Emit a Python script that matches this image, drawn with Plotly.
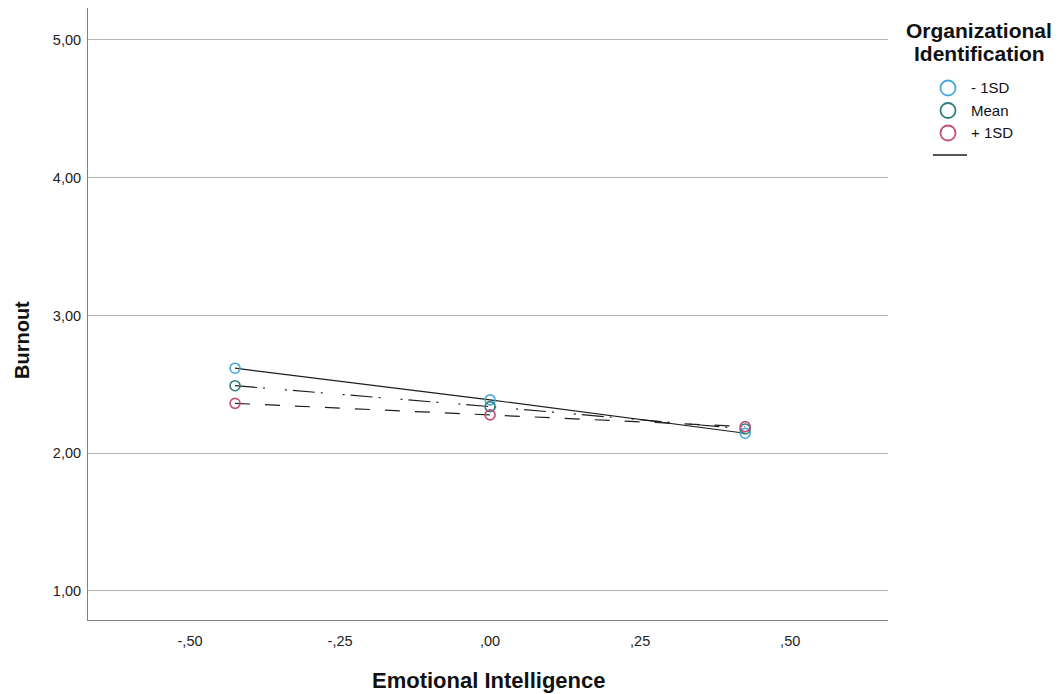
import plotly.graph_objects as go

# Data
x_vals = [-0.425, 0.0, 0.425]
groups = ["- 1SD", "Mean", "+ 1SD"]
burnout_low = [2.617, 2.387, 2.145]
burnout_mean = [2.490, 2.338, 2.176]
burnout_high = [2.362, 2.278, 2.193]
x_tickvals = [-0.5, -0.25, 0.0, 0.25, 0.5]
x_ticktext = ["-,50", "-,25", ",00", ",25", ",50"]
y_tickvals = [1, 2, 3, 4, 5]
y_ticktext = ["1,00", "2,00", "3,00", "4,00", "5,00"]
legend_title = ["Organizational", "Identification"]

series = [burnout_low, burnout_mean, burnout_high]
colors = ["#45a8e0", "#2f7f7b", "#c04f7c"]
dashes = ["solid", "22px,6px,2px,20px,2px,6px", "15px,15px"]

W, H = 1052, 686
L, R, T, B = 80, 172, 0, 74
PW, PH = W - L - R, H - T - B

def px(xf):
    return (xf - L) / PW

def py(yf):
    return 1 - (yf - T) / PH

FONT = "Arial, Liberation Sans, sans-serif"

fig = go.Figure()
for ys, d in zip(series, dashes):
    fig.add_trace(go.Scatter(x=x_vals, y=ys, mode="lines",
                             line=dict(color="#1e1e1e", width=1.2, dash=d),
                             showlegend=False, hoverinfo="skip"))
for name, ys, c in zip(groups, series, colors):
    fig.add_trace(go.Scatter(x=x_vals, y=ys, mode="markers", name=name,
                             showlegend=False,
                             marker=dict(symbol="circle-open", size=10, color=c,
                                         line=dict(width=1.6, color=c))))

annotations = [
    dict(text="<b>Emotional Intelligence</b>", xref="paper", yref="paper",
         x=0.5, y=py(T + PH + 60), xanchor="center", yanchor="middle",
         showarrow=False, font=dict(size=22, family=FONT, color="#111111")),
    dict(text="<b>Burnout</b>", xref="paper", yref="paper", textangle=-90,
         x=px(14), y=py(332), xanchor="center", yanchor="middle",
         showarrow=False, font=dict(size=20, family=FONT, color="#111111")),
    dict(text="<b>%s</b>" % legend_title[0], xref="paper", yref="paper",
         x=px(971.5), y=py(22.5), xanchor="center", yanchor="middle",
         showarrow=False, font=dict(size=21, family=FONT, color="#111111")),
    dict(text="<b>%s</b>" % legend_title[1], xref="paper", yref="paper",
         x=px(971.5), y=py(46), xanchor="center", yanchor="middle",
         showarrow=False, font=dict(size=21, family=FONT, color="#111111")),
]
shapes = []
leg_y = [80, 102.5, 125]
for name, c, yy in zip(groups, colors, leg_y):
    shapes.append(dict(type="circle", xref="paper", yref="paper",
                       xsizemode="pixel", ysizemode="pixel",
                       xanchor=px(940), yanchor=py(yy),
                       x0=-7.5, x1=7.5, y0=-7.5, y1=7.5,
                       line=dict(color=c, width=1.8)))
    annotations.append(dict(text=name, xref="paper", yref="paper",
                            x=px(961), y=py(yy), xanchor="left", yanchor="middle",
                            showarrow=False,
                            font=dict(size=15, family=FONT, color="#111111")))
shapes.append(dict(type="line", xref="paper", yref="paper",
                   x0=px(925), x1=px(959), y0=py(147), y1=py(147),
                   line=dict(color="#1e1e1e", width=1.5)))

fig.update_layout(
    width=W, height=H,
    margin=dict(l=L, r=R, t=T, b=B),
    paper_bgcolor="white", plot_bgcolor="white",
    font=dict(family=FONT, color="#222222", size=14.5),
    showlegend=False,
    xaxis=dict(range=[-0.67, 0.663], tickvals=x_tickvals, ticktext=x_ticktext,
               showgrid=False, zeroline=False, showline=True, linecolor="#808080",
               linewidth=1, ticks="", ticklabelstandoff=8),
    yaxis=dict(range=[0.789, 5.232], tickvals=y_tickvals, ticktext=y_ticktext,
               showgrid=True, gridcolor="#b4b4b4", gridwidth=1, zeroline=False,
               showline=True, linecolor="#808080", linewidth=1, ticks="",
               ticklabelstandoff=3),
    annotations=annotations,
    shapes=shapes,
)
fig.write_html("out.html")
